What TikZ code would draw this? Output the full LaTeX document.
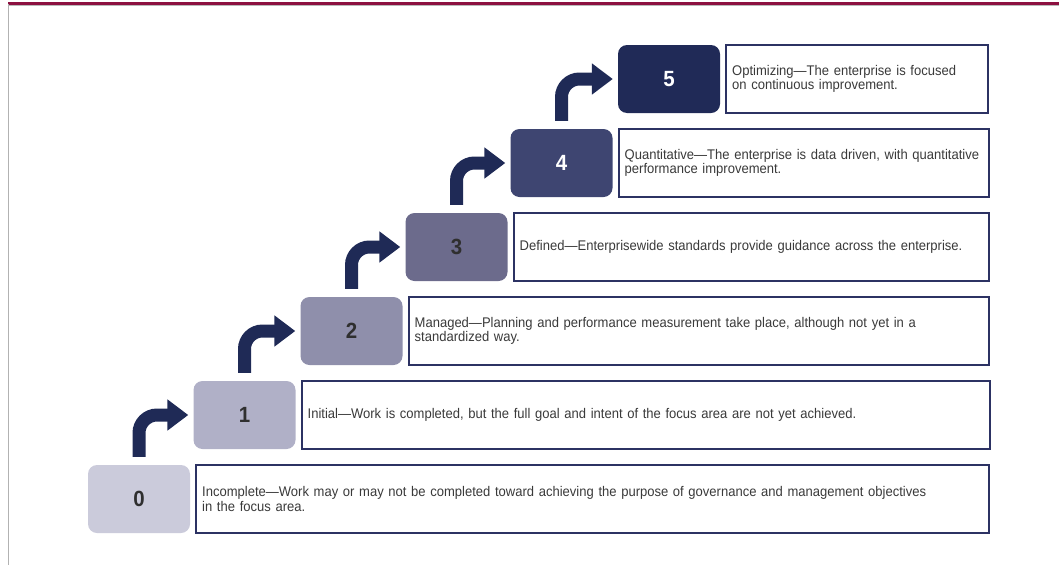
\documentclass[tikz,border=0pt]{standalone}
\usepackage{fontspec}
\setmainfont{Liberation Sans}[FakeStretch=0.93]
\usepackage{tikz}
\usetikzlibrary{positioning, arrows.meta}

\definecolor{navy}{HTML}{1F2A56}
\definecolor{boxline}{HTML}{2C3263}
\definecolor{lvlzero}{HTML}{CBCBDB}
\definecolor{lvlone}{HTML}{B0B0C7}
\definecolor{lvltwo}{HTML}{8F8FAB}
\definecolor{lvlthree}{HTML}{6C6B8C}
\definecolor{lvlfour}{HTML}{3E4571}
\definecolor{lvlfive}{HTML}{202A57}
\definecolor{numdark}{HTML}{2F2F2F}
\definecolor{desctext}{HTML}{3A3A3A}
\definecolor{framered}{HTML}{8C1040}

\tikzset{
    %Define style for the numbered steps
    levelbox/.style={
           rectangle,
           rounded corners=9pt,
           minimum width=102pt,
           minimum height=68pt,
           font=\fontsize{22}{22}\selectfont\bfseries,
           text=numdark},
 %
    descbox/.style={
           rectangle,
           draw=boxline, line width=2pt,
           fill=white,
           text width=#1,
           inner xsep=6pt,
           minimum height=68pt,
           align=left,
           text=desctext,
           font=\fontsize{14}{12}\selectfont},
%
    % Define arrow style
    climb/.style={
           draw=navy,
           line width=13pt,
           rounded corners=18pt,
           -{Triangle[width=30pt,length=21pt]}}
}

\begin{document}
\begin{tikzpicture}[x=1pt,y=-1pt]
  \useasboundingbox (0,0) rectangle (1059,565);

  % frame
  \draw[gray!55, line width=1pt] (8,5.5) -- (1059,5.5);
  \draw[framered, line width=3pt] (8,3) -- (1059,3);
  \draw[gray!60, line width=1.5pt] (8.5,4) -- (8.5,565);

  % steps
  \node[levelbox, fill=lvlzero]  (l0) at (139,499)   {0};
  \node[levelbox, fill=lvlone]   (l1) at (244.5,415) {1};
  \node[levelbox, fill=lvltwo]   (l2) at (351.5,331) {2};
  \node[levelbox, fill=lvlthree] (l3) at (456.5,247) {3};
  \node[levelbox, fill=lvlfour, text=white] (l4) at (561.5,163) {4};
  \node[levelbox, fill=lvlfive, text=white] (l5) at (669,79)    {5};

  % descriptions
  \node[descbox=781pt, right=5pt of l0] (d0) {Incomplete---Work may or may not be completed toward achieving the purpose of governance and management objectives\\in the focus area.};
  \node[descbox=676pt, right=5pt of l1] (d1) {Initial---Work is completed, but the full goal and intent of the focus area are not yet achieved.};
  \node[descbox=568pt, right=5pt of l2] (d2) {Managed---Planning and performance measurement take place, although not yet in a\\standardized way.};
  \node[descbox=463pt, right=5pt of l3] (d3) {Defined---Enterprisewide standards provide guidance across the enterprise.};
  \node[descbox=358pt, right=5pt of l4] (d4) {Quantitative---The enterprise is data driven, with quantitative\\performance improvement.};
  \node[descbox=250pt, right=5pt of l5] (d5) {Optimizing---The enterprise is focused\\on continuous improvement.};

  % arrows
  \draw[climb] ([yshift=8pt]l0.north) |- ([xshift=-5pt]l1.west);
  \draw[climb] ([yshift=8pt]l1.north) |- ([xshift=-5pt]l2.west);
  \draw[climb] ([yshift=8pt]l2.north) |- ([xshift=-5pt]l3.west);
  \draw[climb] ([yshift=8pt]l3.north) |- ([xshift=-5pt]l4.west);
  \draw[climb] ([yshift=8pt]l4.north) |- ([xshift=-5pt]l5.west);
\end{tikzpicture}
\end{document}
